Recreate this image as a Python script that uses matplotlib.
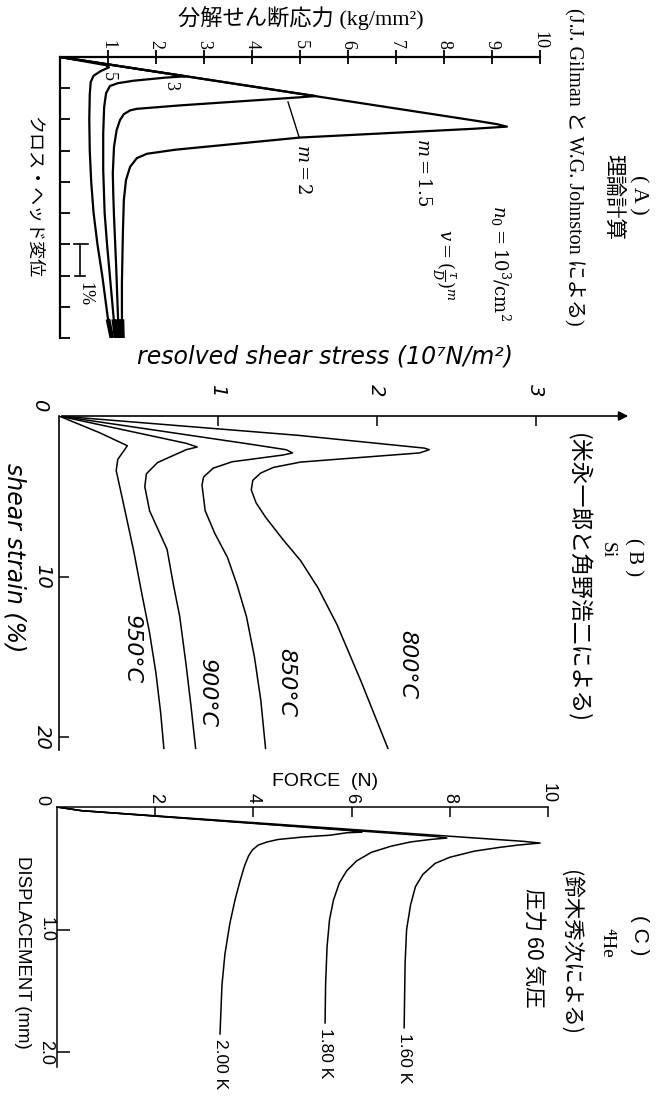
import matplotlib
matplotlib.use("Agg")
import matplotlib.pyplot as plt

plt.rcParams['mathtext.fontset'] = 'dejavuserif'

W, H = 657, 1100
JP = ['Noto Sans CJK JP', 'DejaVu Sans']
SERIF_JP = ['Liberation Serif', 'Noto Sans CJK JP']

# ---- (A) theory, Gilman & Johnston: resolved shear stress vs cross-head displacement
a_ticks = list(range(1, 11))
a_m15_stress = [0, 8.7, 9.1, 9.31, 8.6, 5.0, 2.4, 1.81, 1.6, 1.46, 1.375, 1.33, 1.31, 1.29, 1.29, 1.3]
a_m15_disp = [0, 2.05, 2.15, 2.23, 2.3, 2.58, 2.97, 3.1, 3.24, 3.52, 3.94, 4.58, 5.64, 7.24, 8.4, 9.0]
a_m2_stress = [0, 5.1, 5.33, 5.0, 2.5, 1.6, 1.46, 1.33, 1.25, 1.18, 1.125, 1.1, 1.11, 1.125, 1.17, 1.21, 1.24]
a_m2_disp = [0, 1.2, 1.25, 1.29, 1.55, 1.66, 1.71, 1.83, 2.02, 2.34, 2.88, 3.72, 4.4, 5.1, 6.7, 8.4, 9.0]
a_m3_stress = [0, 2.45, 2.6, 2.2, 1.53, 1.2, 1.04, 0.96, 0.92, 0.9, 0.9, 0.93, 0.98, 1.05, 1.12, 1.17]
a_m3_disp = [0, 0.58, 0.62, 0.66, 0.76, 0.84, 0.93, 1.16, 1.6, 2.44, 3.6, 5.0, 6.0, 7.2, 8.4, 9.0]
a_m5_stress = [0, 0.95, 1.02, 0.85, 0.7, 0.64, 0.62, 0.61, 0.62, 0.65, 0.7, 0.78, 0.88, 1.0, 1.08]
a_m5_disp = [0, 0.26, 0.33, 0.45, 0.6, 0.8, 1.2, 2.0, 3.0, 4.0, 5.0, 6.0, 7.0, 8.4, 9.0]

# ---- (B) Si, Yonenaga & Sumino: stress (1e7 N/m2) vs shear strain (%)
b_800_stress = [0, 1.5, 2.15, 2.3, 2.33, 2.27, 1.94, 1.52, 1.35, 1.27, 1.22, 1.21, 1.24, 1.3, 1.41, 1.52, 1.63, 1.75, 1.9, 2.07]
b_800_strain = [0, 1.2, 1.85, 2.0, 2.1, 2.3, 2.55, 2.87, 3.2, 3.55, 4.0, 4.6, 5.4, 6.3, 7.7, 9.0, 10.7, 13.0, 16.5, 20.7]
b_850_stress = [0, 1.2, 1.43, 1.47, 1.41, 1.09, 0.97, 0.91, 0.90, 0.92, 0.98, 1.06, 1.12, 1.18, 1.23, 1.27, 1.30]
b_850_strain = [0, 1.75, 2.1, 2.3, 2.43, 2.85, 3.25, 3.8, 4.3, 5.9, 7.3, 8.8, 10.5, 12.5, 15.0, 17.7, 20.7]
b_900_stress = [0, 0.8, 0.87, 0.8, 0.62, 0.55, 0.54, 0.57, 0.68, 0.72, 0.76, 0.80, 0.83, 0.86]
b_900_strain = [0, 1.7, 1.93, 2.1, 2.9, 3.6, 4.4, 5.9, 8.3, 10.5, 12.5, 15.5, 18.0, 20.7]
b_950_stress = [0, 0.26, 0.43, 0.42, 0.37, 0.36, 0.40, 0.47, 0.52, 0.57, 0.61, 0.64, 0.66]
b_950_strain = [0, 1.06, 1.85, 2.0, 2.7, 3.4, 5.2, 8.4, 11.0, 13.5, 16.0, 18.5, 20.7]

# ---- (C) 4He, Suzuki: force (N) vs displacement (mm)
c_160_force = [0, 0.5, 9.5, 9.84, 9.4, 9.0, 8.5, 8.0, 7.7, 7.45, 7.3, 7.2, 7.12, 7.09, 7.07]
c_160_disp = [0, 0.03, 0.28, 0.294, 0.31, 0.33, 0.36, 0.41, 0.46, 0.55, 0.65, 0.8, 1.0, 1.27, 1.8]
c_180_force = [0, 0.5, 7.7, 7.94, 7.6, 7.2, 6.8, 6.4, 6.1, 5.9, 5.75, 5.63, 5.55, 5.5, 5.47, 5.46]
c_180_disp = [0, 0.03, 0.24, 0.253, 0.265, 0.285, 0.32, 0.37, 0.44, 0.52, 0.62, 0.76, 0.92, 1.14, 1.45, 1.76]
c_200_force = [0, 0.5, 5.9, 6.15, 6.21, 5.9, 5.56, 5.0, 4.5, 4.28, 4.1, 3.98, 3.9, 3.82, 3.73, 3.63, 3.52, 3.42, 3.36, 3.32]
c_200_disp = [0, 0.03, 0.19, 0.2, 0.205, 0.21, 0.23, 0.245, 0.265, 0.285, 0.31, 0.35, 0.4, 0.48, 0.6, 0.75, 0.95, 1.2, 1.45, 1.85]

fig = plt.figure(figsize=(W / 100, H / 100), dpi=100)


def px_axes(l, t, r, b):
    return fig.add_axes([l / W, 1 - b / H, (r - l) / W, (b - t) / H])


def ftext(x, y, s, **kw):
    kw.setdefault('ha', 'center')
    kw.setdefault('va', 'center')
    fig.text(x / W, 1 - y / H, s, **kw)


def style_axes(ax):
    ax.patch.set_visible(False)
    ax.spines['right'].set_visible(False)
    ax.spines['bottom'].set_visible(False)
    ax.xaxis.tick_top()


# ================= panel A
ax = px_axes(60, 57, 540, 338)
style_axes(ax)
for s in ('top', 'left'):
    ax.spines[s].set_linewidth(1.6)
ax.set_xlim(0, 10)
ax.set_ylim(9.0, 0)
ax.set_xticks(a_ticks)
ax.set_xticklabels([str(t) for t in a_ticks], rotation=-90, family='Liberation Serif', fontsize=13)
ax.tick_params(axis='x', direction='inout', length=10, width=1.3, pad=1)
ax.set_yticks(range(1, 10))
ax.set_yticklabels([])
ax.tick_params(axis='y', direction='in', length=7, width=1.3)
for xs, ys in [(a_m15_stress, a_m15_disp), (a_m2_stress, a_m2_disp),
               (a_m3_stress, a_m3_disp), (a_m5_stress, a_m5_disp)]:
    ax.plot(xs, ys, color='black', lw=1.6, solid_joinstyle='round')
    ax.plot(xs[-2:], ys[-2:], color='black', lw=3.4, solid_capstyle='butt')
ax.text(1.0, 0.64, '5', rotation=-90, fontsize=13, family='Liberation Serif', ha='center', va='center')
ax.text(2.3, 0.9, '3', rotation=-90, fontsize=13, family='Liberation Serif', ha='center', va='center')
ax.plot([4.75, 4.98], [1.44, 2.56], color='black', lw=1.0)
ax.text(5.06, 3.6, r'$m=2$', rotation=-90, fontsize=13, ha='center', va='center')
ax.text(7.56, 3.7, r'$m=1.5$', rotation=-90, fontsize=13, ha='center', va='center')
ax.text(9.17, 6.6, r'$n_0=10^3/\mathrm{cm}^2$', rotation=-90, fontsize=13, ha='center', va='center')
ax.text(8.0, 6.65, r'$v=(\frac{\tau}{D})^m$', rotation=-90, fontsize=13, ha='center', va='center')
# 1 % bar
ax.plot([0.42, 0.42], [6.0, 7.0], color='black', lw=1.2)
ax.plot([0.3, 0.58], [6.0, 6.0], color='black', lw=1.2)
ax.plot([0.32, 0.52], [7.0, 7.0], color='black', lw=1.2)
ax.text(0.52, 7.6, '1%', rotation=-90, fontsize=13, family='Liberation Serif', ha='center', va='center')

ftext(301, 18, '分解せん断応力 (kg/mm²)', family=SERIF_JP, fontsize=16)
ftext(34, 197, 'クロス・ヘッド変位', family=JP, fontsize=13, rotation=-90)
ftext(638, 195, '( A )', family='Liberation Serif', fontsize=16, rotation=-90)
ftext(613, 197, '理論計算', family=JP, fontsize=15.5, rotation=-90)
ftext(574, 167, '(J.J. Gilman と W.G. Johnston による)', family=SERIF_JP, fontsize=14.5, rotation=-90)

# ================= panel B
ax = px_axes(59, 416, 631, 750)
style_axes(ax)
ax.spines['top'].set_visible(False)
ax.spines['left'].set_linewidth(1.2)
ax.set_xlim(0, 3.6)
ax.set_ylim(20.8, 0)
ax.annotate('', xy=(3.6, 0), xytext=(0, 0), xycoords='data',
            arrowprops=dict(arrowstyle='-|>', color='black', lw=1.2, mutation_scale=14),
            annotation_clip=False)
ax.set_xticks([1, 2, 3])
ax.set_xticklabels(['1', '2', '3'], rotation=-90, style='italic', fontsize=14)
ax.tick_params(axis='x', direction='in', length=7, width=1.1, pad=14)
ax.set_yticks([10, 20])
ax.set_yticklabels(['10', '20'], rotation=-90, style='italic', fontsize=14, va='center')
ax.tick_params(axis='y', direction='in', length=7, width=1.1, pad=5)
for xs, ys in [(b_800_stress, b_800_strain), (b_850_stress, b_850_strain),
               (b_900_stress, b_900_strain), (b_950_stress, b_950_strain)]:
    ax.plot(xs, ys, color='black', lw=1.1)
for x, y, s in [(2.19, 15.5, '800°C'), (1.43, 16.6, '850°C'), (0.93, 17.2, '900°C'), (0.46, 14.5, '950°C')]:
    ax.text(x, y, s, rotation=-90, style='italic', fontsize=16, ha='center', va='center')

ftext(40, 405, '0', style='italic', fontsize=14, rotation=-90)
ftext(325, 357, 'resolved shear stress (10⁷N/m²)', style='italic', fontsize=17)
ftext(14, 558, 'shear strain (%)', style='italic', fontsize=17, rotation=-90)
ftext(633, 557, '( B )', family='Liberation Serif', fontsize=15, rotation=-90)
ftext(607, 550, 'Si', family='Liberation Serif', fontsize=14, rotation=-90)
ftext(577, 578, '(米永一郎と角野浩二による)', family=JP, fontsize=16.5, rotation=-90)

# ================= panel C
ax = px_axes(57, 807, 548, 1067)
style_axes(ax)
for s in ('top', 'left'):
    ax.spines[s].set_linewidth(1.1)
ax.set_xlim(0, 10)
ax.set_ylim(2.12, 0)
ax.set_xticks([2, 4, 6, 8, 10])
ax.set_xticklabels(['2', '4', '6', '8', '10'], rotation=-90, family='Liberation Sans', fontsize=13)
ax.tick_params(axis='x', direction='in', length=7, width=1.1, pad=3)
ax.set_yticks([1.0, 2.0])
ax.set_yticklabels(['1.0', '2.0'], rotation=-90, family='Liberation Sans', fontsize=13, va='center')
ax.tick_params(axis='y', direction='in', length=9, width=1.1, pad=2)
for xs, ys, lab in [(c_160_force, c_160_disp, '1.60 K'), (c_180_force, c_180_disp, '1.80 K'),
                    (c_200_force, c_200_disp, '2.00 K')]:
    ax.plot(xs, ys, color='black', lw=1.1)
    ax.text(xs[-1], ys[-1] + 0.04, lab, rotation=-90, family='Liberation Sans', fontsize=12.5,
            ha='center', va='top')

ftext(42, 800, '0', family='Liberation Sans', fontsize=13, rotation=-90)
ftext(325, 782, 'FORCE  (N)', family='Liberation Sans', fontsize=14)
ftext(22, 952, 'DISPLACEMENT (mm)', family='Liberation Sans', fontsize=13.4, rotation=-90)
ftext(640, 935, '( C )', family='Liberation Sans', fontsize=15, rotation=-90)
ftext(607, 943, '⁴He', family='Liberation Serif', fontsize=14, rotation=-90)
ftext(570, 952, '(鈴木秀次による)', family=JP, fontsize=15.5, rotation=-90)
ftext(533, 948, '圧力 60 気圧', family=JP, fontsize=15.5, rotation=-90)

fig.savefig('out.png', dpi=100, facecolor='white')
